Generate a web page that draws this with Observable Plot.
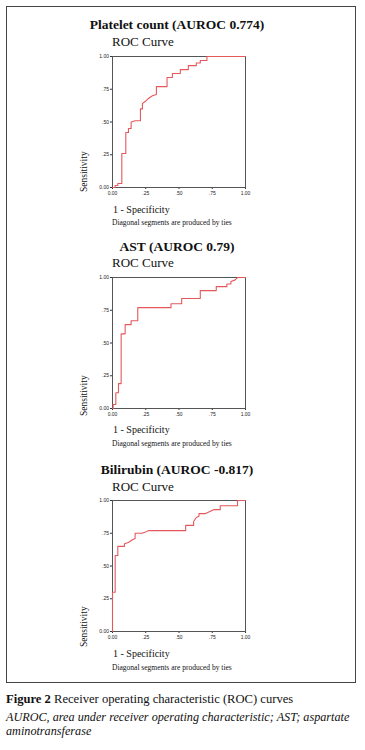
<!DOCTYPE html>
<html>
<head>
<meta charset="utf-8">
<script src="https://cdn.jsdelivr.net/npm/d3@7"></script>
<script src="https://cdn.jsdelivr.net/npm/@observablehq/plot@0.6"></script>
<style>
  html, body { margin: 0; padding: 0; background: #fff; }
  #page { position: relative; width: 365px; height: 750px; overflow: hidden; font-family: "Liberation Serif", "DejaVu Serif", serif; color: #111; }
  #box { position: absolute; left: 6px; top: 6px; width: 348px; height: 675px; border: 1px solid #444; }
  .t { position: absolute; white-space: nowrap; line-height: 1; }
  .title { font-weight: bold; font-size: 13.5px; transform: translateX(-50%); }
  .roc { font-size: 13px; }
  .xl { font-size: 10px; }
  .note { font-size: 7.5px; }
  .yl { font-size: 9.5px; transform-origin: 0 0; transform: rotate(-90deg); }
  .chart { position: absolute; left: 0; }
  #cap { position: absolute; left: 6px; top: 692px; width: 359px; font-size: 12.6px; line-height: 14px; white-space: nowrap; }
  #cap i { display: block; font-size: 12.2px; margin-top: 4px; }
</style>
</head>
<body>
<div id="page">
  <div id="box"></div>
  <div id="cap"><b>Figure 2</b> Receiver operating characteristic (ROC) curves<i>AUROC, area under receiver operating characteristic; AST; aspartate<br>aminotransferase</i></div>
</div>
<script>
// ---- data ----
const titles = ["Platelet count (AUROC 0.774)", "AST (AUROC 0.79)", "Bilirubin (AUROC -0.817)"];
const subtitle = "ROC Curve";
const xLabel = "1 - Specificity";
const yLabel = "Sensitivity";
const note = "Diagonal segments are produced by ties";
const tickValues = [0, 0.25, 0.5, 0.75, 1];
const tickLabels = ["0.00", ".25", ".50", ".75", "1.00"];

const plateletFpr = [0, 0.02, 0.02, 0.04, 0.04, 0.07, 0.07, 0.10, 0.10, 0.12, 0.12, 0.14, 0.14, 0.17, 0.21, 0.21, 0.225, 0.225, 0.25, 0.27, 0.30, 0.33, 0.33, 0.41, 0.41, 0.45, 0.45, 0.51, 0.51, 0.57, 0.57, 0.63, 0.63, 0.66, 0.66, 0.71, 0.71, 1];
const plateletTpr = [0, 0, 0.015, 0.015, 0.03, 0.03, 0.26, 0.26, 0.42, 0.42, 0.45, 0.45, 0.50, 0.51, 0.51, 0.60, 0.60, 0.64, 0.66, 0.68, 0.70, 0.71, 0.77, 0.77, 0.84, 0.84, 0.87, 0.87, 0.90, 0.90, 0.93, 0.93, 0.95, 0.95, 0.97, 0.97, 1, 1];

const astFpr = [0, 0.005, 0.005, 0.025, 0.025, 0.045, 0.045, 0.065, 0.065, 0.095, 0.095, 0.14, 0.14, 0.19, 0.19, 0.44, 0.44, 0.52, 0.52, 0.66, 0.66, 0.78, 0.78, 0.86, 0.86, 0.89, 0.89, 0.92, 0.94, 1];
const astTpr = [0, 0, 0.03, 0.03, 0.12, 0.12, 0.19, 0.19, 0.57, 0.57, 0.64, 0.64, 0.67, 0.67, 0.77, 0.77, 0.80, 0.80, 0.84, 0.84, 0.90, 0.90, 0.93, 0.93, 0.95, 0.95, 0.97, 0.98, 1, 1];

const biliFpr = [0, 0, 0.02, 0.02, 0.04, 0.04, 0.09, 0.09, 0.12, 0.15, 0.17, 0.17, 0.22, 0.25, 0.27, 0.55, 0.55, 0.61, 0.61, 0.63, 0.65, 0.65, 0.70, 0.74, 0.76, 0.81, 0.81, 0.94, 0.94, 1];
const biliTpr = [0, 0.30, 0.30, 0.58, 0.58, 0.65, 0.65, 0.67, 0.68, 0.70, 0.71, 0.75, 0.75, 0.76, 0.77, 0.77, 0.81, 0.81, 0.84, 0.87, 0.88, 0.90, 0.90, 0.92, 0.93, 0.93, 0.96, 0.96, 1, 1];

const series = [[plateletFpr, plateletTpr], [astFpr, astTpr], [biliFpr, biliTpr]];

// ---- layout ----
const plotTops = [56, 276.5, 500];
const plotH = 131;
const mTop = 8, mBottom = 16;
const layout = [
  {title: 18, roc: 35, xl: 205, note: 219, ylMid: 172},
  {title: 240, roc: 256, xl: 425, note: 440, ylMid: 396},
  {title: 463, roc: 480, xl: 649, note: 664, ylMid: 627}
];
const page = document.getElementById("page");
function addText(cls, txt, left, top) {
  const d = document.createElement("div");
  d.className = "t " + cls;
  d.textContent = txt;
  d.style.left = left + "px";
  d.style.top = top + "px";
  page.appendChild(d);
  return d;
}

series.forEach(([fpr, tpr], i) => {
  const data = fpr.map((x, j) => ({x, y: tpr[j]}));
  const fmt = d => tickLabels[tickValues.indexOf(d)];
  const chart = Plot.plot({
    width: 365,
    height: plotH + mTop + mBottom,
    marginLeft: 112,
    marginRight: 120,
    marginTop: mTop,
    marginBottom: mBottom,
    style: {fontFamily: "Liberation Sans, Arial, sans-serif", fontSize: "5px", background: "transparent", color: "#222"},
    x: {domain: [0, 1]},
    y: {domain: [0, 1]},
    marks: [
      Plot.axisY({ticks: tickValues, tickFormat: fmt, tickSize: 2, tickPadding: 1.5, fontSize: 5, label: null, stroke: "#333"}),
      Plot.axisX({ticks: tickValues, tickFormat: fmt, tickSize: 2, tickPadding: 1.5, fontSize: 5, label: null, stroke: "#333"}),
      Plot.frame({stroke: "#555", strokeWidth: 1}),
      Plot.line(data, {x: "x", y: "y", stroke: "#e4585c", strokeWidth: 1.1})
    ]
  });
  chart.classList.add("chart");
  chart.style.top = (plotTops[i] - mTop) + "px";
  page.appendChild(chart);

  const L = layout[i];
  addText("title", titles[i], 177, L.title);
  addText("roc", subtitle, 112, L.roc);
  addText("xl", xLabel, 113, L.xl);
  addText("note", note, 112, L.note);
  const yl = addText("yl", yLabel, 80, 0);
  const w = yl.getBoundingClientRect().height;
  yl.style.top = (L.ylMid + w / 2) + "px";
});
</script>
</body>
</html>
